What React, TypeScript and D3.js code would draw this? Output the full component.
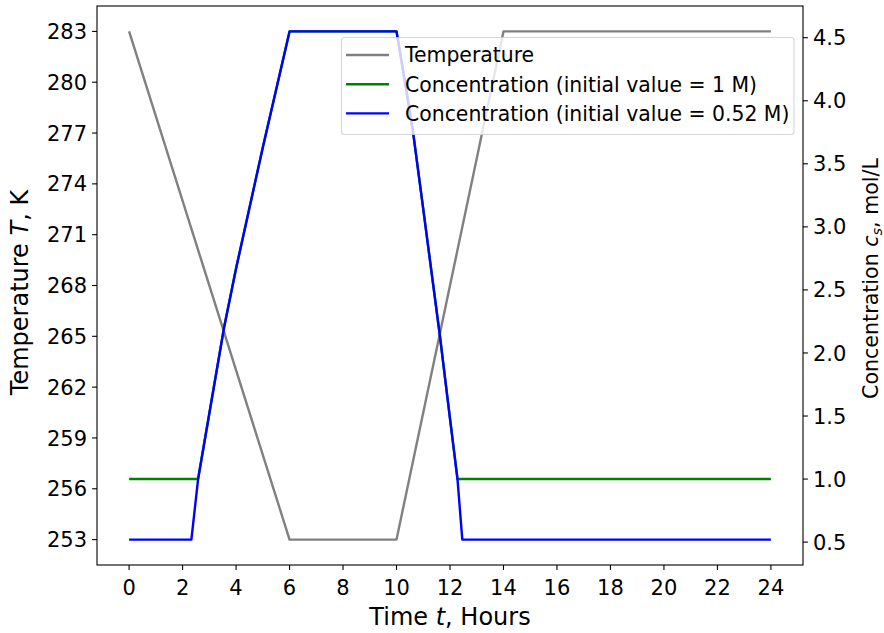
import React from "react";
import * as d3 from "d3";

// ---- Data ----
const tempTime = [0, 6, 10, 14, 24];
const tempValues = [283, 253, 253, 283, 283];

const concBlueTime = [0, 2.33, 2.58, 3.0, 3.55, 4.0, 4.5, 5.0, 5.5, 6.0, 10.0, 10.3, 10.62, 11.0, 11.62, 12.0, 12.28, 12.46, 24];
const concBlueValues = [0.52, 0.52, 1.0, 1.52, 2.2, 2.67, 3.15, 3.63, 4.09, 4.55, 4.55, 4.17, 3.75, 3.14, 2.14, 1.48, 1.0, 0.52, 0.52];

const concGreenTime = [0, 2.58, 3.0, 3.55, 4.0, 4.5, 5.0, 5.5, 6.0, 10.0, 10.3, 10.62, 11.0, 11.62, 12.0, 12.28, 24];
const concGreenValues = [1.0, 1.0, 1.52, 2.2, 2.67, 3.15, 3.63, 4.09, 4.55, 4.55, 4.17, 3.75, 3.14, 2.14, 1.48, 1.0, 1.0];

const xTicks = [0, 2, 4, 6, 8, 10, 12, 14, 16, 18, 20, 22, 24];
const leftTicks = [253, 256, 259, 262, 265, 268, 271, 274, 277, 280, 283];
const rightTicks = [0.5, 1.0, 1.5, 2.0, 2.5, 3.0, 3.5, 4.0, 4.5];

const legendLabels = [
  "Temperature",
  "Concentration (initial value = 1 M)",
  "Concentration (initial value = 0.52 M)",
];
const legendColors = ["#808080", "#008000", "#0000ff"];

// ---- Layout ----
const W = 884;
const H = 633;
const L = 97;
const R = 803;
const T = 6;
const B = 565;
const FONT = "DejaVu Sans, sans-serif";
const FS_TICK = 21;
const FS_LEG = 20.4;
const FS_LAB = 24;
const FS_RLAB = 20.6;
const LW = 2.4;

function pad(min: number, max: number): [number, number] {
  const m = (max - min) * 0.05;
  return [min - m, max + m];
}

export default function App() {
  const x = d3.scaleLinear().domain(pad(0, 24)).range([L, R]);
  const yL = d3
    .scaleLinear()
    .domain(pad(d3.min(tempValues)!, d3.max(tempValues)!))
    .range([B, T]);
  const yR = d3
    .scaleLinear()
    .domain(pad(d3.min(concBlueValues)!, d3.max(concBlueValues)!))
    .range([B, T]);

  const lineT = d3
    .line<number>()
    .x((_, i) => x(tempTime[i]))
    .y((d) => yL(d));
  const lineB = d3
    .line<number>()
    .x((_, i) => x(concBlueTime[i]))
    .y((d) => yR(d));
  const lineG = d3
    .line<number>()
    .x((_, i) => x(concGreenTime[i]))
    .y((d) => yR(d));

  const tickLen = 4.9;
  const lg = { x: 341.5, y: 37.5, w: 452.5, h: 97 };

  return (
    <svg
      width={W}
      height={H}
      style={{ position: "absolute", left: 0, top: 0, background: "#fff" }}
      fontFamily={FONT}
    >
      <rect x={0} y={0} width={W} height={H} fill="#fff" />
      {/* temperature line (primary axis) */}
      <path d={lineT(tempValues)!} fill="none" stroke="#808080" strokeWidth={LW} strokeLinejoin="round" />
      {/* concentration lines (secondary axis) */}
      <path d={lineG(concGreenValues)!} fill="none" stroke="#008000" strokeWidth={LW} strokeLinejoin="round" />
      <path d={lineB(concBlueValues)!} fill="none" stroke="#0000ff" strokeWidth={LW} strokeLinejoin="round" />

      {/* frame */}
      <rect x={L} y={T} width={R - L} height={B - T} fill="none" stroke="#000" strokeWidth={1.1} />

      {/* x ticks */}
      {xTicks.map((t) => (
        <g key={"x" + t}>
          <line x1={x(t)} x2={x(t)} y1={B} y2={B + tickLen} stroke="#000" strokeWidth={1.1} />
          <text x={x(t)} y={B + 30} textAnchor="middle" fontSize={FS_TICK} fill="#000">
            {t}
          </text>
        </g>
      ))}
      {/* left ticks */}
      {leftTicks.map((t) => (
        <g key={"l" + t}>
          <line x1={L - tickLen} x2={L} y1={yL(t)} y2={yL(t)} stroke="#000" strokeWidth={1.1} />
          <text x={L - tickLen - 5} y={yL(t)} dy="0.36em" textAnchor="end" fontSize={FS_TICK} fill="#000">
            {t}
          </text>
        </g>
      ))}
      {/* right ticks */}
      {rightTicks.map((t) => (
        <g key={"r" + t}>
          <line x1={R} x2={R + tickLen} y1={yR(t)} y2={yR(t)} stroke="#000" strokeWidth={1.1} />
          <text x={R + tickLen + 5} y={yR(t)} dy="0.36em" textAnchor="start" fontSize={FS_TICK} fill="#000">
            {t.toFixed(1)}
          </text>
        </g>
      ))}

      {/* axis labels */}
      <text x={(L + R) / 2} y={625} textAnchor="middle" fontSize={FS_LAB} fill="#000">
        Time <tspan fontStyle="italic">t</tspan>, Hours
      </text>
      <text
        transform={`translate(28, 292.5) rotate(-90)`}
        textAnchor="middle"
        fontSize={FS_LAB}
        fill="#000"
      >
        Temperature <tspan fontStyle="italic">T</tspan>, K
      </text>
      <text
        transform={`translate(878, 278.5) rotate(-90)`}
        textAnchor="middle"
        fontSize={FS_RLAB}
        fill="#000"
      >
        Concentration <tspan fontStyle="italic">c</tspan>
        <tspan fontStyle="italic" fontSize={FS_RLAB * 0.7} dy="3.5">s</tspan>
        <tspan dy="-3.5">, mol/L</tspan>
      </text>

      {/* legend */}
      <rect
        x={lg.x}
        y={lg.y}
        width={lg.w}
        height={lg.h}
        rx={3}
        fill="#fff"
        fillOpacity={0.8}
        stroke="#cccccc"
        strokeOpacity={0.8}
        strokeWidth={1.1}
      />
      {legendLabels.map((lab, i) => {
        const yy = 55 + i * 29.2;
        return (
          <g key={lab}>
            <line x1={346} x2={389} y1={yy} y2={yy} stroke={legendColors[i]} strokeWidth={LW} />
            <text x={405} y={yy} dy="0.36em" fontSize={FS_LEG} fill="#000">
              {lab}
            </text>
          </g>
        );
      })}
    </svg>
  );
}
